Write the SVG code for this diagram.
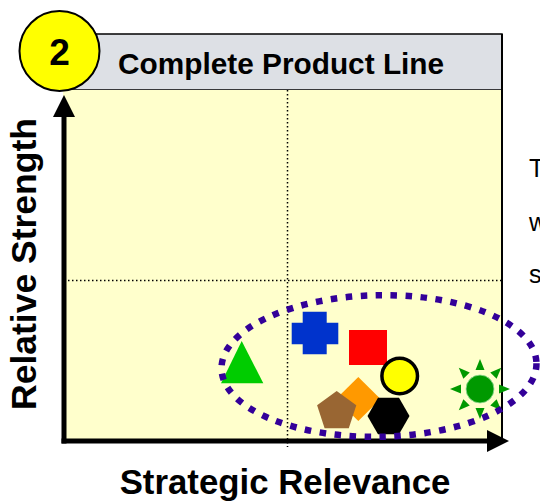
<svg xmlns="http://www.w3.org/2000/svg" width="540" height="504" viewBox="0 0 540 504">
<style>
.lbl{font-family:"Liberation Sans",Arial,sans-serif;font-weight:bold;fill:#000}
.side{font-family:"Liberation Sans",Arial,sans-serif;font-size:25px;fill:#000}
.dot{fill:none;stroke:#000;stroke-width:1.5;stroke-dasharray:1.5 2.5}
.axis{stroke:#000;stroke-width:5;fill:none}
</style>
<rect width="540" height="504" fill="#fff"/>
<g id="header">
<rect x="60" y="34" width="442" height="56" fill="#DDE0E5" stroke="#000" stroke-width="1.5"/>
<text class="lbl" x="118" y="74" font-size="29.8">Complete Product Line</text>
</g>
<g id="plot">
<rect x="63" y="90" width="439" height="351" fill="#FFFFCC"/>
<line x1="502" y1="34" x2="502" y2="441" stroke="#000" stroke-width="2"/>
<line class="dot" x1="287.5" y1="90" x2="287.5" y2="447"/>
<line class="dot" x1="68" y1="280.5" x2="501" y2="280.5"/>
</g>
<g id="badge">
<circle cx="59.5" cy="51" r="40" fill="#FFFF00" stroke="#000" stroke-width="2"/>
<text class="lbl" x="59.5" y="65" font-size="37" text-anchor="middle">2</text>
</g>
<g id="axes">
<line class="axis" x1="64" y1="443.5" x2="64" y2="112"/>
<polygon points="64,95 53,117 75,117" fill="#000"/>
<line class="axis" x1="61.5" y1="441" x2="490" y2="441"/>
<polygon points="509,441 487,430 487,452" fill="#000"/>
</g>
<g id="triangle"><polygon points="241.7,341 221,383.3 263.3,383.3" fill="#00CC00"/></g>
<g id="cross"><path d="M302.7,311.7H326.7V322.7H338.3V344.3H326.7V354.3H302.7V344.3H291.7V322.7H302.7Z" fill="#0033CC"/></g>
<g id="square"><rect x="349" y="330" width="38" height="35" fill="#FF0000"/></g>
<g id="diamond"><polygon points="358.3,377 380.5,399 358.3,421 336,399" fill="#FF9900"/></g>
<g id="pentagon"><polygon points="336.7,391 356.3,405.2 348.8,428.3 324.6,428.3 317.1,405.2" fill="#996633"/></g>
<g id="yellow-circle"><circle cx="399.7" cy="376" r="17.8" fill="#FFFF00" stroke="#000" stroke-width="3.5"/></g>
<g id="hexagon"><polygon points="409.5,416 399,397.8 378,397.8 367.5,416 378,434.2 399,434.2" fill="#000"/></g>
<g id="sun" transform="translate(480,389)" fill="#009900">
<circle r="14" stroke="#99DD99" stroke-width="0.8"/>
<polygon points="0,-30 -4.5,-19 4.5,-19"/>
<polygon points="0,-30 -4.5,-19 4.5,-19" transform="rotate(45)"/>
<polygon points="0,-30 -4.5,-19 4.5,-19" transform="rotate(90)"/>
<polygon points="0,-30 -4.5,-19 4.5,-19" transform="rotate(135)"/>
<polygon points="0,-30 -4.5,-19 4.5,-19" transform="rotate(180)"/>
<polygon points="0,-30 -4.5,-19 4.5,-19" transform="rotate(225)"/>
<polygon points="0,-30 -4.5,-19 4.5,-19" transform="rotate(270)"/>
<polygon points="0,-30 -4.5,-19 4.5,-19" transform="rotate(315)"/>
</g>
<g id="connectors">
<ellipse cx="379" cy="366" rx="157.5" ry="70.8" fill="none" stroke="#330099" stroke-width="6.5" stroke-dasharray="6.5 8.5" transform="rotate(-1 379 366)"/>
</g>
<g id="labels">
<text class="lbl" x="285" y="494" font-size="34.8" text-anchor="middle">Strategic Relevance</text>
<text class="lbl" transform="translate(36,264) rotate(-90)" font-size="35.5" text-anchor="middle">Relative Strength</text>
<text class="side" x="529" y="177">T</text>
<text class="side" x="529" y="231">w</text>
<text class="side" x="529" y="283">s</text>
</g>
</svg>
